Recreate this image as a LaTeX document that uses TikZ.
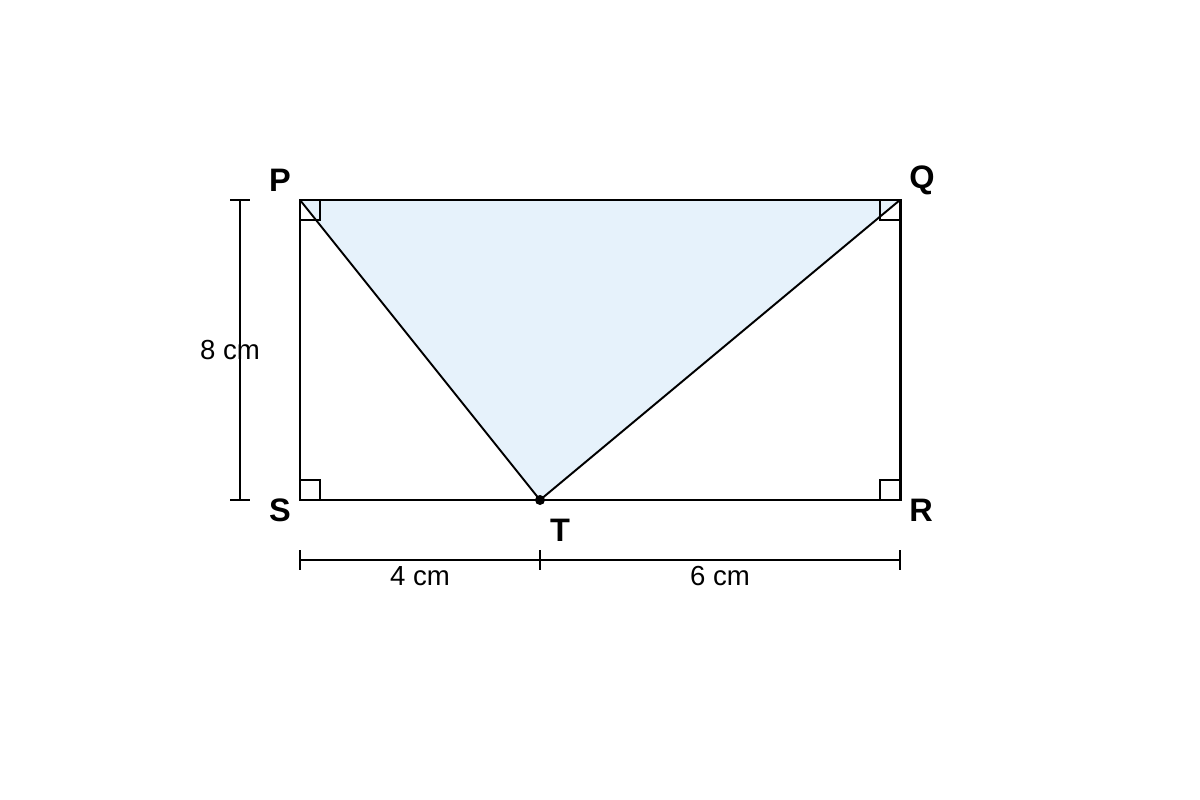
\documentclass[tikz,border=0pt]{standalone}
\usepackage{fontspec}
\setmainfont{Liberation Sans}
\definecolor{fillblue}{HTML}{E6F2FB}
\begin{document}
\begin{tikzpicture}[x=0.02cm,y=-0.02cm,
  vlabel/.style={font=\bfseries\fontsize{18.5}{20}\selectfont},
  dimlabel/.style={font=\fontsize{15.7}{18}\selectfont},
  rect/.style={line width=1.7pt},
  tri/.style={line width=1.1pt},
  ramark/.style={line width=0.9pt},
  dimline/.style={line width=0.9pt}]
\useasboundingbox (0,0) rectangle (1200,800);
\coordinate (P) at (300,200);
\coordinate (Q) at (900,200);
\coordinate (R) at (900,500);
\coordinate (S) at (300,500);
\coordinate (T) at (540,500);
\fill[fillblue] (P) -- (Q) -- (T) -- cycle;
% right angle marks
\draw[ramark] (300,220) -| (320,200);
\draw[ramark] (880,200) |- (900,220);
\draw[ramark] (300,480) -| (320,500);
\draw[ramark] (880,500) |- (900,480);
\draw[tri] (P) -- (T) -- (Q);
\draw[rect] (P) -- (Q) -- (R) -- (S) -- cycle;
\fill (T) circle (5);
% labels
\node[vlabel] (lP) at (280,180) {P};
\node[vlabel] (lQ) at (922,180) {Q};
\node[vlabel] (lR) at (921,510) {R};
\node[vlabel] (lS) at (280,510) {S};
\node[vlabel] (lT) at (560,530) {T};
% vertical dimension
\coordinate (v1) at (240,200);
\coordinate (v2) at (240,500);
\draw[dimline] (v1) -- (v2);
\draw[dimline] (230,200) -- (250,200);
\draw[dimline] (230,500) -- (250,500);
\node[dimlabel] (d8) at (230,350) {8 cm};
% horizontal dimension
\coordinate (h1) at (300,560);
\coordinate (h2) at (540,560);
\coordinate (h3) at (900,560);
\draw[dimline] (h1) -- (h3);
\draw[dimline] (300,550) -- (300,570);
\draw[dimline] (540,550) -- (540,570);
\draw[dimline] (900,550) -- (900,570);
\node[dimlabel] (d4) at (420,576) {4 cm};
\node[dimlabel] (d6) at (720,576) {6 cm};
\end{tikzpicture}
\end{document}
